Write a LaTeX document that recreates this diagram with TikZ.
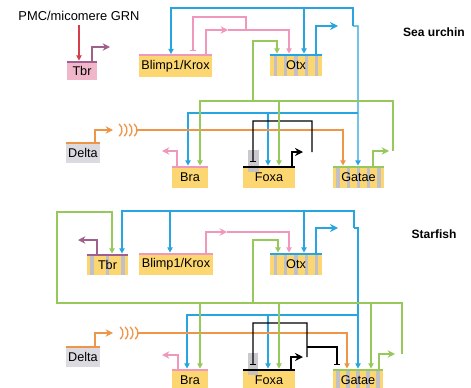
\documentclass[tikz,border=0pt]{standalone}
\usepackage{fontspec}
\setmainfont{Liberation Sans}
\usetikzlibrary{arrows.meta,calc}

\definecolor{geneyel}{RGB}{252,214,112}
\definecolor{tbrpink}{RGB}{240,182,202}
\definecolor{deltagray}{RGB}{218,218,224}
\definecolor{stripegray}{RGB}{192,192,198}
\definecolor{cblue}{RGB}{40,165,225}
\definecolor{cpink}{RGB}{240,152,188}
\definecolor{cgreen}{RGB}{150,200,92}
\definecolor{corange}{RGB}{238,150,72}
\definecolor{cpurple}{RGB}{160,96,142}
\definecolor{cred}{RGB}{214,62,78}

\begin{document}
\begin{tikzpicture}[x=0.3mm, y=-0.3mm,
  gene/.style={rectangle, fill=geneyel, inner sep=0pt, minimum height=6.3mm, font=\fontsize{10.8}{12}\selectfont},
  striped/.style={path picture={
    \foreach \k in {#1}
      \fill[stripegray] ($(path picture bounding box.south west)!\k!(path picture bounding box.south east)+(-0.5mm,0)$)
        rectangle ($(path picture bounding box.north west)!\k!(path picture bounding box.north east)+(0.5mm,0)$);}},
  topbar/.style={line width=0.7mm},
  net/.style={line width=0.4mm},
  inarr/.style={net, -{Triangle[length=1.6mm,width=1.6mm]}, shorten >=0.35mm},
  outarr/.style={line width=0.5mm, -{Stealth[length=2.2mm,width=2.2mm]}},
  thickout/.style={line width=0.75mm, -{Stealth[length=2.4mm,width=2.4mm]}},
  repr/.style={net, -{Bar[width=1.9mm]}, shorten >=1.3mm},
  species/.style={font=\fontsize{10.3}{12}\selectfont\bfseries}
]
  \useasboundingbox (0,0) rectangle (471,387);
  \clip (0,0) rectangle (471,387);

  % sea urchin
  \node[font=\fontsize{11}{13}\selectfont] (pmc) at (79,16) {PMC/micomere GRN};
  \node[species] (urchin) at (434,32) {Sea urchin};
  \node[gene, fill=tbrpink, minimum width=9mm, minimum height=5.4mm] (tbrA) at (82,71) {Tbr};
  \node[gene, minimum width=21.9mm] (blimpA) at (175.5,66) {Blimp1/Krox};
  \node[gene, striped={0.1,0.3,0.5,0.7,0.9}, minimum width=15.6mm] (otxA) at (296,65.5) {Otx};
  \node[gene, fill=deltagray, minimum width=10.2mm, minimum height=6mm] (deltaA) at (83,153) {Delta};
  \node[gene, minimum width=10.8mm] (braA) at (190,177.5) {Bra};
  \node[gene, minimum width=15.6mm] (foxaA) at (269,177.5) {Foxa};
  \node[gene, striped={0.1,0.3,0.5,0.7,0.9}, minimum width=15.3mm] (gataeA) at (358.5,177.5) {Gatae};
  \fill[stripegray, opacity=0.85] (248,150) rectangle (259,172);

  \coordinate (tbrTipA) at (110,47);
  \coordinate (pinkTipA) at (228,30);
  \coordinate (pinkJA) at (246,30);
  \coordinate (blueTipA) at (338,26);
  \coordinate (blueJA) at (353,26);
  \coordinate (blueTopA) at (353,8);
  \coordinate (blueMidA) at (358,113);
  \coordinate (sigA) at (113,130);
  \coordinate (sigEndA) at (137,130);
  \coordinate (blackTipA) at (303,152);
  \coordinate (blackJA) at (312,152);
  \coordinate (greenTipA) at (389,151);
  \coordinate (greenJA) at (393,151);
  \coordinate (greenTopA) at (393,101);
  \coordinate (greenOtxA) at (253,101);
  \coordinate (braTipA) at (162,151);

  \draw[inarr, cred] (pmc.south) -- (pmc.south |- tbrA.north);
  \draw[outarr, cpurple] ([xshift=3mm]tbrA.north) |- (tbrTipA);
  \draw[outarr, cpink] ([xshift=9.15mm]blimpA.north) |- (pinkTipA);
  \draw[inarr, cpink] (pinkTipA) -| ([xshift=-2.1mm]otxA.north);
  \draw[repr, cpink] (pinkJA) -- ++(0,-13) -| ([xshift=5.25mm]blimpA.north);
  \draw[thickout, cblue] ([xshift=6mm]otxA.north) |- (blueTipA);
  \draw[inarr, cblue] (blueJA) -- (blueTopA) -| ([xshift=-1.35mm]blimpA.north);
  \draw[inarr, cblue] (blueTopA) -| ([xshift=2.4mm]otxA.north);
  \draw[inarr, cblue] (blueJA) -- ++(5,0) -- ([xshift=-0.15mm]gataeA.north);
  \draw[inarr, cblue] (blueMidA) -| ([xshift=-0.6mm]braA.north);
  \draw[inarr, cblue] (blueMidA) -| ([xshift=-0.3mm]foxaA.north);
  \draw[outarr, corange] ([xshift=3.6mm]deltaA.north) |- (sigA);
  \foreach \i in {0,...,3}
    \draw[net, corange] ($(sigA)+(1+5*\i,0)$) ++(-50:8) arc (-50:50:8);
  \draw[inarr, corange] (sigEndA) -| ([xshift=-4.65mm]gataeA.north);
  \draw[thickout] ([xshift=6.9mm]foxaA.north) |- (blackTipA);
  \draw[repr] (blackJA) |- (253,121) -- ([xshift=-4.8mm]foxaA.north);
  \draw[outarr, cgreen] ([xshift=4.35mm]gataeA.north) |- (greenTipA);
  \draw[inarr, cgreen] (greenJA) -- (greenTopA) -| ([xshift=3mm]braA.north);
  \draw[inarr, cgreen] (greenTopA) -| ([xshift=3mm]foxaA.north);
  \draw[inarr, cgreen] (greenOtxA) -- ++(0,-60) -| ([xshift=-5.7mm]otxA.north);
  \draw[outarr, cpink] ([xshift=-3.9mm]braA.north) |- (braTipA);

  % starfish
  \node[species] (starfish) at (434,234) {Starfish};
  \node[gene, striped={0.12,0.5,0.88}, minimum width=12.3mm, minimum height=6mm] (tbrB) at (107.5,265) {Tbr};
  \node[gene, minimum width=22.2mm] (blimpB) at (176,264.5) {Blimp1/Krox};
  \node[gene, striped={0.1,0.3,0.5,0.7,0.9}, minimum width=15.6mm] (otxB) at (296,264.5) {Otx};
  \node[gene, fill=deltagray, minimum width=10.2mm, minimum height=6mm] (deltaB) at (83,357) {Delta};
  \node[gene, minimum width=10.8mm] (braB) at (190,380.5) {Bra};
  \node[gene, minimum width=15.6mm] (foxaB) at (269,380.5) {Foxa};
  \node[gene, striped={0.1,0.3,0.5,0.7,0.9}, minimum width=15mm] (gataeB) at (358,380.5) {Gatae};
  \fill[stripegray, opacity=0.85] (248,353) rectangle (258,375);

  \coordinate (tbrTipB) at (78,240);
  \coordinate (pinkTipB) at (227,232);
  \coordinate (blueTipB) at (338,228);
  \coordinate (blueJB) at (354,228);
  \coordinate (blueTopB) at (354,211);
  \coordinate (blueMidB) at (358,315);
  \coordinate (sigB) at (113,333);
  \coordinate (sigEndB) at (138,333);
  \coordinate (blackTipB) at (303,357);
  \coordinate (blackJB) at (307,357);
  \coordinate (blackGatB) at (307,347);
  \coordinate (greenTipB) at (395,354);
  \coordinate (greenJB) at (402,354);
  \coordinate (greenTopB) at (402,303);
  \coordinate (greenLeftB) at (57,212);
  \coordinate (greenOtxB) at (253,303);
  \coordinate (braTipB) at (162,355);

  \draw[outarr, cpurple] ([xshift=-3.15mm]tbrB.north) |- (tbrTipB);
  \draw[outarr, cpink] ([xshift=9mm]blimpB.north) |- (pinkTipB);
  \draw[inarr, cpink] (pinkTipB) -| ([xshift=-2.1mm]otxB.north);
  \draw[thickout, cblue] ([xshift=6mm]otxB.north) |- (blueTipB);
  \draw[inarr, cblue] (blueJB) -- (blueTopB) -| ([xshift=4.35mm]tbrB.north);
  \draw[inarr, cblue] (blueTopB) -| ([xshift=-1.8mm]blimpB.north);
  \draw[inarr, cblue] (blueTopB) -| ([xshift=2.4mm]otxB.north);
  \draw[inarr, cblue] (blueJB) -- ++(4,0) -- (gataeB.north);
  \draw[inarr, cblue] (blueMidB) -| ([xshift=-0.9mm]braB.north);
  \draw[inarr, cblue] (blueMidB) -| ([xshift=-0.3mm]foxaB.north);
  \draw[outarr, corange] ([xshift=3.6mm]deltaB.north) |- (sigB);
  \foreach \i in {0,...,3}
    \draw[net, corange] ($(sigB)+(2+5*\i,0)$) ++(-50:8) arc (-50:50:8);
  \draw[inarr, corange] (sigEndB) -| ([xshift=-3.3mm]gataeB.north);
  \draw[thickout] ([xshift=6.6mm]foxaB.north) |- (blackTipB);
  \draw[repr] (blackJB) |- (253,323) -- ([xshift=-4.8mm]foxaB.north);
  \draw[repr] (blackGatB) -| ([xshift=-6.3mm]gataeB.north);
  \draw[outarr, cgreen] ([xshift=6.3mm]gataeB.north) |- (greenTipB);
  \draw[inarr, cgreen] (greenJB) -- (greenTopB) -| (greenLeftB) -| ([xshift=1.35mm]tbrB.north);
  \draw[inarr, cgreen] (greenTopB) -| ([xshift=3mm]braB.north);
  \draw[inarr, cgreen] (greenTopB) -| ([xshift=3mm]foxaB.north);
  \draw[inarr, cgreen] (greenTopB) -| ([xshift=3.9mm]gataeB.north);
  \draw[inarr, cgreen] (greenOtxB) -- ++(0,-63) -| ([xshift=-5.4mm]otxB.north);
  \draw[outarr, cpink] ([xshift=-3.6mm]braB.north) |- (braTipB);

  \foreach \g/\c in {tbrA/cpurple, blimpA/cpink, otxA/cblue, deltaA/corange, braA/cpink, foxaA/black, gataeA/cgreen,
                     tbrB/cpurple, blimpB/cpink, otxB/cblue, deltaB/corange, braB/cpink, foxaB/black, gataeB/cgreen}
    \draw[topbar, draw=\c] (\g.north west) -- (\g.north east);
\end{tikzpicture}
\end{document}
